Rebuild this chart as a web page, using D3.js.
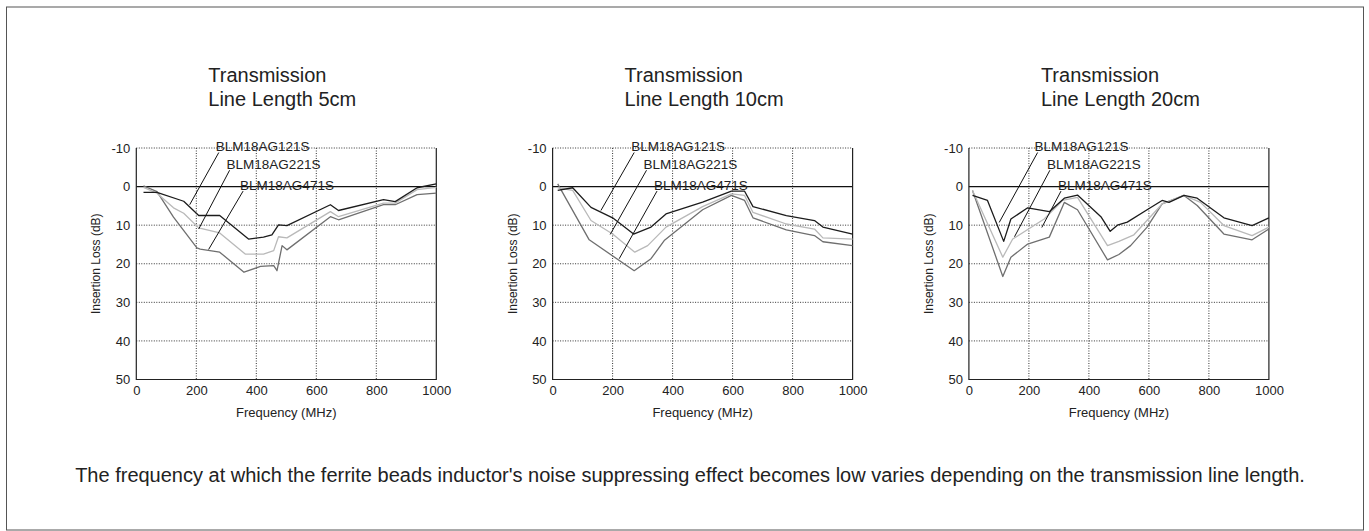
<!DOCTYPE html>
<html>
<head>
<meta charset="utf-8">
<script src="https://cdn.jsdelivr.net/npm/d3@7"></script>
<style>
  html, body { margin: 0; padding: 0; background: #fff; }
  svg { display: block; font-family: "Liberation Sans", Arial, sans-serif; }
</style>
</head>
<body>
<script>
// ---------- data ----------
const freqTicks = [0, 200, 400, 600, 800, 1000];
const lossTicks = [-10, 0, 10, 20, 30, 40, 50];
const gridFreq = [200, 400, 600, 800];
const gridLoss = [-10, 10, 20, 30, 40];
const seriesNames = ["BLM18AG121S", "BLM18AG221S", "BLM18AG471S"];
const panelTitles = [["Transmission", "Line Length 5cm"], ["Transmission", "Line Length 10cm"], ["Transmission", "Line Length 20cm"]];
const caption = "The frequency at which the ferrite beads inductor's noise suppressing effect becomes low varies depending on the transmission line length.";

// [MHz, dB]
const len5_121S = [[24,1.5],[69,1.5],[158,3.8],[208,7.5],[278,7.5],[374,13.6],[424,13.1],[452,12.5],[474,9.9],[502,10.1],[647,4.7],[674,6.2],[824,3.4],[863,3.9],[936,0.3],[1000,-0.7]];
const len5_221S = [[24,0.2],[69,1.7],[124,5.5],[158,6.9],[208,10.7],[278,12.0],[363,17.5],[424,17.5],[458,16.6],[474,13.0],[502,13.3],[647,6.5],[674,7.8],[824,4.3],[863,4.3],[936,0.8],[1000,0.2]];
const len5_471S = [[24,-0.2],[69,1.3],[124,7.9],[202,15.9],[213,16.2],[278,17.0],[359,22.2],[414,20.7],[458,20.5],[469,21.8],[486,15.3],[502,16.4],[647,7.8],[674,8.6],[824,4.7],[863,4.7],[936,2.1],[1000,1.7]];

const len10_121S = [[17,1.0],[67,0.3],[128,5.4],[200,8.1],[270,12.3],[328,10.5],[378,7.1],[500,4.0],[596,1.2],[640,1.2],[668,5.2],[779,7.5],[873,8.8],[901,10.5],[1000,12.3]];
const len10_221S = [[17,0.3],[67,1.0],[128,8.8],[200,12.3],[274,17.0],[317,15.3],[378,10.5],[500,5.2],[596,1.9],[640,2.3],[668,6.7],[779,9.7],[873,11.0],[901,13.3],[1000,13.6]];
const len10_471S = [[17,-0.7],[122,13.8],[272,21.8],[328,18.7],[372,14.0],[500,6.0],[596,2.3],[640,3.6],[668,8.1],[779,11.2],[873,12.7],[901,14.3],[1000,15.3]];

const len20_121S = [[12,2.3],[62,3.6],[116,14.2],[140,8.4],[196,5.5],[268,6.5],[318,3.0],[362,2.2],[440,7.8],[471,11.6],[495,10.0],[528,9.2],[594,6.0],[644,3.6],[667,4.1],[717,2.3],[761,3.0],[850,8.1],[944,10.1],[1000,8.1]];
const len20_221S = [[12,1.0],[113,18.3],[146,13.6],[251,8.4],[312,3.6],[362,2.8],[462,15.3],[500,14.2],[550,12.5],[644,4.5],[717,2.3],[772,4.1],[850,10.1],[944,12.7],[1000,10.5]];
const len20_471S = [[12,1.0],[113,23.3],[140,18.3],[196,14.9],[268,13.1],[318,4.1],[362,6.0],[462,19.0],[500,17.6],[539,15.3],[594,10.5],[644,4.5],[717,2.3],[761,4.9],[850,12.3],[944,13.8],[1000,11.0]];

const panelSeries = [[len5_121S, len5_221S, len5_471S], [len10_121S, len10_221S, len10_471S], [len20_121S, len20_221S, len20_471S]];

// label annotation anchors in data units: text left (MHz), row level (dB), leader target [MHz, dB]
const labelRows = [-10, -5.4, 0];
const labelLeftMHz = [[265, 301, 346], [262, 303, 338], [219, 260, 297]];
const leaderTargets = [
  [[178, 4.7], [208, 11.0], [241, 16.3]],
  [[161, 6.2], [192, 12.4], [222, 18.7]],
  [[101, 9.3], [152, 13.0], [243, 10.6]]
];

// ---------- styles ----------
const W = 1369, H = 531;
const seriesColors = ["#1c1c1c", "#b9b9b9", "#6f6f6f"];
const plotW = 300, plotTop = 148, plotBottom = 379.5;
const panelLeft = i => 136.3 + i * 416.3;
const fmt = d => String(d);

const svg = d3.select("body").append("svg").attr("width", W).attr("height", H);

// outer frame
svg.append("rect").attr("x", 6.5).attr("y", 7).attr("width", 1357).attr("height", 523)
  .attr("fill", "none").attr("stroke", "#555").attr("stroke-width", 1);

panelSeries.forEach((series, i) => {
  const x0 = panelLeft(i);
  const x = d3.scaleLinear().domain([0, 1000]).range([x0, x0 + plotW]);
  const y = d3.scaleLinear().domain([-10, 50]).range([plotTop, plotBottom]);
  const g = svg.append("g");

  // title
  const t = g.append("text").attr("x", x0 + 72).attr("font-size", 20).attr("fill", "#222");
  t.append("tspan").attr("x", x0 + 72).attr("y", 81.5).text(panelTitles[i][0]);
  t.append("tspan").attr("x", x0 + 72).attr("y", 106).text(panelTitles[i][1]);

  // grid
  g.selectAll(".vg").data(gridFreq).join("line")
    .attr("x1", d => x(d)).attr("x2", d => x(d)).attr("y1", y(-10)).attr("y2", y(50))
    .attr("stroke", "#333").attr("stroke-width", 1).attr("stroke-dasharray", "1,1.5");
  g.selectAll(".hg").data(gridLoss).join("line")
    .attr("x1", x(0)).attr("x2", x(1000)).attr("y1", d => y(d)).attr("y2", d => y(d))
    .attr("stroke", "#333").attr("stroke-width", 1).attr("stroke-dasharray", "1,1.5");

  // zero reference line
  g.append("line").attr("x1", x(0)).attr("x2", x(1000)).attr("y1", y(0)).attr("y2", y(0))
    .attr("stroke", "#111").attr("stroke-width", 1.2);

  // axes frame (left, bottom, right)
  g.append("path")
    .attr("d", `M${x(0)},${y(-10)}V${y(50)}H${x(1000)}V${y(-10)}`)
    .attr("fill", "none").attr("stroke", "#222").attr("stroke-width", 1.2);

  // tick labels
  const ay = g.append("g").attr("transform", `translate(${x(0)},0)`)
    .call(d3.axisLeft(y).tickValues(lossTicks).tickSize(0).tickPadding(6).tickFormat(fmt));
  ay.select(".domain").remove();
  ay.selectAll("text").attr("font-size", 13).attr("font-family", "Liberation Sans, Arial, sans-serif").attr("fill", "#222");

  const ax = g.append("g").attr("transform", `translate(0,${y(50)})`)
    .call(d3.axisBottom(x).tickValues(freqTicks).tickSize(0).tickPadding(6).tickFormat(fmt));
  ax.select(".domain").remove();
  ax.selectAll("text").attr("font-size", 13).attr("font-family", "Liberation Sans, Arial, sans-serif").attr("fill", "#222");

  // axis titles
  g.append("text").attr("x", x(500)).attr("y", 417).attr("text-anchor", "middle")
    .attr("font-size", 13).attr("fill", "#222").text("Frequency (MHz)");
  g.append("text").attr("transform", `translate(${x0 - 36},${(y(-10) + y(50)) / 2}) rotate(-90)`)
    .attr("text-anchor", "middle").attr("font-size", 12).attr("fill", "#222").text("Insertion Loss (dB)");

  // label gaps and text
  const labels = seriesNames.map((name, k) => {
    const tx = x(labelLeftMHz[i][k]);
    const ly = y(labelRows[k]);
    const txt = g.append("text").attr("x", tx).attr("y", ly + 3).attr("font-size", 13.5).attr("fill", "#222").text(name);
    return { k, tx, ly, txt };
  });
  labels.forEach(({ k, tx, ly, txt }) => {
    if (k === 1) return;
    const w = txt.node().getComputedTextLength();
    g.insert("rect", "text").attr("x", tx - 7).attr("y", ly - 2).attr("width", w + 9).attr("height", 4).attr("fill", "#fff");
  });

  // series lines
  const line = d3.line().x(d => x(d[0])).y(d => y(d[1]));
  [2, 1, 0].forEach(k => {
    g.append("path").datum(series[k]).attr("d", line)
      .attr("fill", "none").attr("stroke", seriesColors[k]).attr("stroke-width", 1.3).attr("stroke-linejoin", "round");
  });

  // leaders
  labels.forEach(({ k, tx, ly }) => {
    const tgt = leaderTargets[i][k];
    g.append("line").attr("x1", tx + 3).attr("y1", ly + 4.5).attr("x2", x(tgt[0])).attr("y2", y(tgt[1]))
      .attr("stroke", "#111").attr("stroke-width", 1);
  });
});

// caption
svg.append("text").attr("x", 690).attr("y", 482).attr("text-anchor", "middle")
  .attr("font-size", 20).attr("fill", "#222").text(caption);
</script>
</body>
</html>
